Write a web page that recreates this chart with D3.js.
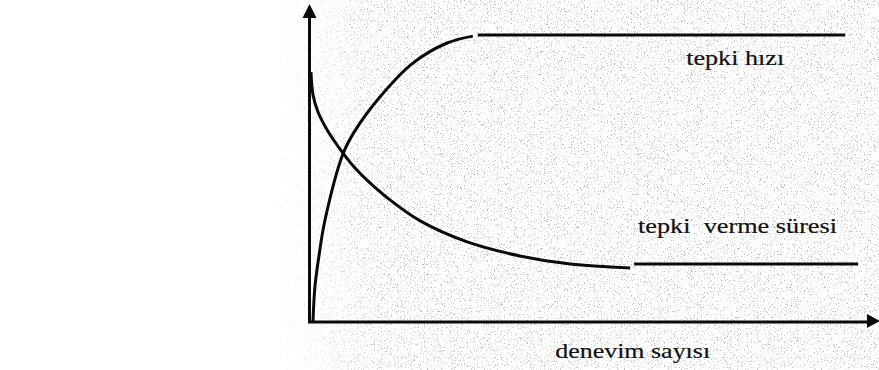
<!DOCTYPE html>
<html>
<head>
<meta charset="utf-8">
<script src="https://cdn.jsdelivr.net/npm/d3@7"></script>
<style>
  html, body { margin: 0; padding: 0; background: #fff; }
  svg { display: block; }
</style>
</head>
<body>
<div id="wrapper"></div>
<script>
// values, in arbitrary units (x: trials, y: 0-100)
const hiziCurve = [
  [0.36, 0.3], [0.7, 11.7], [1.5, 23], [2.5, 34], [5.7, 56], [7.7, 63.3],
  [12.3, 75], [18.2, 86.3], [24.3, 93], [28.9, 95.3]
]
const hiziFlat = [[29.8, 95.7], [95.4, 95.7]]

const sureCurve = [
  [0, 83.3], [0.36, 75.7], [1.25, 70], [2.68, 64.7], [4.29, 60], [5.71, 56.3],
  [7.86, 51.3], [10, 47.3], [14.1, 40.7], [19.5, 33.7], [27.9, 26.7],
  [37.3, 22], [46.3, 19.3], [57, 18]
]
const sureFlat = [[57.7, 19.3], [97.7, 19.3]]

const labels = [
  {text: "tepki hızı", x: 67, y: 85.7, len: 98},
  {text: "tepki  verme süresi", x: 58.4, y: 29.7, len: 199},
  {text: "denevim sayısı", x: 43.6, y: -12, len: 155}
]
const axisEnd = {x: 101.6, y: 106}

const width = 879
const height = 370

const x = d3.scaleLinear().domain([0, 100]).range([311, 871])
const y = d3.scaleLinear().domain([0, 100]).range([322, 22])

const svg = d3.select("#wrapper")
  .append("svg")
  .attr("width", width)
  .attr("height", height)

const defs = svg.append("defs")

// scanned-paper speckle
const f = defs.append("filter").attr("id", "speckle")
  .attr("x", 0).attr("y", 0).attr("width", 1).attr("height", 1)
f.append("feTurbulence")
  .attr("type", "fractalNoise")
  .attr("baseFrequency", 1.3)
  .attr("numOctaves", 1)
  .attr("seed", 4)
f.append("feColorMatrix")
  .attr("type", "matrix")
  .attr("values", "0 0 0 0 0.5  0 0 0 0 0.5  0 0 0 0 0.5  8 0 0 0 -4.75")

const grad = defs.append("linearGradient").attr("id", "fadeInv")
  .attr("x1", 0).attr("x2", 1).attr("y1", 0).attr("y2", 0)
grad.append("stop").attr("offset", 0).attr("stop-color", "#000")
grad.append("stop").attr("offset", 0.72).attr("stop-color", "#000")
grad.append("stop").attr("offset", 1).attr("stop-color", "#fff")

const mask = defs.append("mask").attr("id", "fadeMask")
mask.append("rect")
  .attr("x", 380).attr("y", 0).attr("width", width - 380).attr("height", height)
  .attr("fill", "#fff")
mask.append("rect")
  .attr("x", 0).attr("y", 0).attr("width", 380).attr("height", height)
  .attr("fill", "url(#fadeInv)")

svg.append("rect")
  .attr("x", 0).attr("y", 0)
  .attr("width", width).attr("height", height)
  .attr("filter", "url(#speckle)")
  .attr("mask", "url(#fadeMask)")

const ink = "#0a0a0a"

// axes
svg.append("line")
  .attr("x1", x(0) - 1.5).attr("y1", y(0) + 1)
  .attr("x2", x(0) - 1.5).attr("y2", y(axisEnd.y) + 10)
  .attr("stroke", ink).attr("stroke-width", 3)
svg.append("line")
  .attr("x1", x(0) - 3).attr("y1", y(0))
  .attr("x2", x(axisEnd.x) - 10).attr("y2", y(0))
  .attr("stroke", ink).attr("stroke-width", 3)

// arrowheads
const ax = x(0) - 1.5, ay = y(axisEnd.y)
svg.append("path")
  .attr("d", `M${ax},${ay} L${ax - 7},${ay + 14} L${ax + 7},${ay + 14} Z`)
  .attr("fill", ink)
const bx = x(axisEnd.x), by = y(0)
svg.append("path")
  .attr("d", `M${bx},${by - 1} L${bx - 13},${by - 8} L${bx - 13},${by + 6} Z`)
  .attr("fill", ink)

const line = d3.line()
  .x(d => x(d[0]))
  .y(d => y(d[1]))
  .curve(d3.curveCatmullRom.alpha(0.5))

svg.selectAll(".curve")
  .data([hiziCurve, hiziFlat, sureCurve, sureFlat])
  .enter().append("path")
  .attr("class", "curve")
  .attr("d", line)
  .attr("fill", "none")
  .attr("stroke", ink)
  .attr("stroke-width", 3)
  .attr("stroke-linecap", "butt")

svg.selectAll(".label")
  .data(labels)
  .enter().append("text")
  .attr("class", "label")
  .attr("x", d => x(d.x))
  .attr("y", d => y(d.y))
  .attr("textLength", d => d.len)
  .attr("lengthAdjust", "spacingAndGlyphs")
  .style("font-family", "'Liberation Serif', 'Times New Roman', serif")
  .style("font-size", "21px")
  .style("white-space", "pre")
  .attr("fill", "#111")
  .attr("stroke", "#111")
  .attr("stroke-width", 0.2)
  .text(d => d.text)
</script>
</body>
</html>
